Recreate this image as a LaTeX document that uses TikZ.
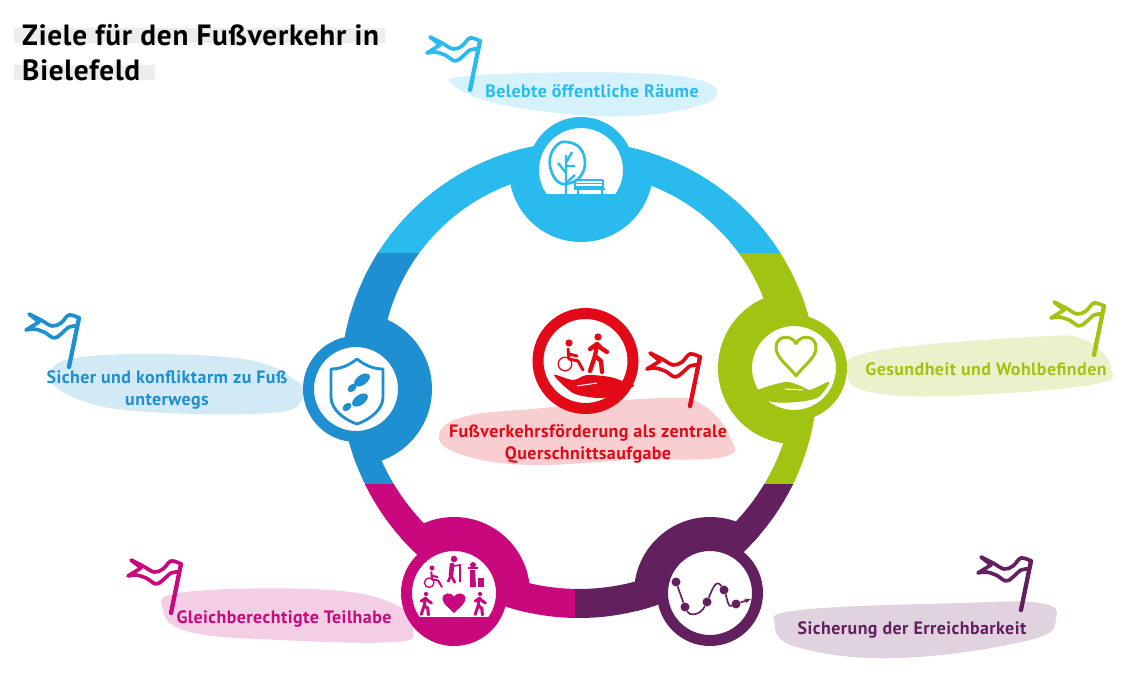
\documentclass[tikz,border=0pt]{standalone}
\usepackage{fontspec}
\setmainfont{PT Sans}[LetterSpace=2.5]
\usetikzlibrary{arrows.meta}

\definecolor{hellblau}{HTML}{29BBEE}
\definecolor{blau}{HTML}{1E8FD0}
\definecolor{gruen}{HTML}{A1C412}
\definecolor{rosa}{HTML}{C9087D}
\definecolor{lila}{HTML}{63205F}
\definecolor{rot}{HTML}{E30A18}

\newcommand{\ringaussen}{(579,380) circle [radius=238]}
\newcommand{\ringinnen}{plot[domain=180:360,samples=80] ({579+198*cos(\x)},{370+198*sin(\x)}) -- plot[domain=0:180,samples=80] ({579+216*cos(\x)},{373+216*sin(\x)}) -- cycle}

\tikzset{
  ring node/.style={circle,draw=#1,line width=.33cm,fill=white,minimum size=2.85cm,inner sep=0pt},
  wolke/.style={fill=#1,draw=none},
  ziel/.style={font=\bfseries\fontsize{15.3}{18}\selectfont,text=#1,align=center},
  wegpunkt/.style={circle,fill=lila,minimum size=.27cm,inner sep=0pt},
  weg/.style={draw=lila,line width=.05cm},
  fahne/.pic={
    \draw[line width=.11cm,line cap=round,line join=round]
      plot[smooth,tension=.6] coordinates {(10,17)(22,23)(33,29)(42,26)(50,18)(60,21)};
    \draw[line width=.11cm,line cap=round,line join=round]
      plot[smooth,tension=.6] coordinates {(7,33)(15,32)(25,35)(35,41)(42,37)(50,30)(57,29)};
    \draw[line width=.11cm,line join=round] (10,17) -- (20,25) -- (7,33);
    \draw[line width=.13cm,line cap=round] (60,21) -- (50,70);
  },
  herz/.pic={
    \path[pic actions] (0,-6) .. controls (-4,-13) and (-16,-12) .. (-16,-3) .. controls (-16,4) and (-6,10) .. (0,17)
      .. controls (6,10) and (16,4) .. (16,-3) .. controls (16,-12) and (4,-13) .. (0,-6) -- cycle;
  },
  gehend/.pic={
    \fill (0,0) circle [radius=3.6];
    \draw[line cap=round,line join=round] (-8,12) -- (-1,7) -- (3,11) -- (9,15);
    \draw[line cap=round,line join=round] (-1,7) -- (-3,19) -- (-8,34);
    \draw[line cap=round,line join=round] (-3,19) -- (3,24) -- (4,35);
  },
  rollstuhl/.pic={
    \fill (0,0) circle [radius=3.6];
    \draw[line width=.04cm] (-4,21) circle [radius=6.8];
    \draw[line cap=round,line join=round] (-1,6) -- (0,16) -- (9,18) -- (14,27);
    \draw[line cap=round] (0,11) -- (8,13);
  }
}

\begin{document}
\begin{tikzpicture}[x=.03cm,y=-.03cm]
  \useasboundingbox (0,0) rectangle (1135,679);

  % title
  \fill[black!7] (14,28) rectangle (385,43) (14,65) rectangle (155,80);
  \node[anchor=north west,inner sep=0pt,align=left,font=\bfseries\fontsize{25}{30}\selectfont] (titel) at (22,24)
    {Ziele für den Fußverkehr in\\Bielefeld};

  % pale clouds behind the texts
  \fill[wolke=hellblau!20] plot[smooth cycle,tension=.7] coordinates {(457,88)(478,75)(670,75)(715,98)(633,116)(520,108)};
  \fill[wolke=blau!20] plot[smooth cycle,tension=.7] coordinates {(50,375)(90,356)(235,358)(295,380)(302,400)(270,413)(150,412)(80,400)};
  \fill[wolke=gruen!22] plot[smooth cycle,tension=.7] coordinates {(848,375)(870,352)(1030,337)(1085,340)(1111,368)(1090,385)(950,396)(870,392)};
  \fill[wolke=rosa!20] plot[smooth cycle,tension=.7] coordinates {(163,610)(185,592)(330,590)(400,607)(413,630)(395,642)(280,640)(190,632)};
  \fill[wolke=lila!20] plot[smooth cycle,tension=.7] coordinates {(775,625)(800,610)(960,603)(1040,603)(1056,618)(1030,640)(900,658)(800,648)};
  \fill[wolke=rot!20] plot[smooth cycle,tension=.7] coordinates {(439,437)(463,417)(543,408)(663,398)(703,405)(730,437)(723,457)(630,460)(530,465)(463,455)};

  % big ring, one colour per part
  \foreach \farbe/\xa/\ya/\xb/\yb in {hellblau/300/100/860/254,blau/300/254/578/484,gruen/578/254/860/484,rosa/300/484/575/650,lila/575/484/860/650}{
    \begin{scope}
      \clip (\xa,\ya) rectangle (\xb,\yb);
      \fill[\farbe,even odd rule] \ringaussen \ringinnen;
    \end{scope}
  }

  % thick part of the ring at each goal
  \begin{scope}
    \clip \ringaussen;
    \fill[hellblau] (581,170) circle [radius=72];
    \fill[blau] (356,389) circle [radius=76];
    \fill[gruen] (794,368) circle [radius=76];
    \fill[rosa] (454,593) circle [radius=76];
    \fill[lila] (710,593) circle [radius=76];
  \end{scope}

  \node[ring node=hellblau] (raeume) at (581,170) {};
  \node[ring node=blau] (sicher) at (356,389) {};
  \node[ring node=gruen] (gesund) at (794,368) {};
  \node[ring node=rosa] (teilhabe) at (454,593) {};
  \node[ring node=lila] (erreichbar) at (710,593) {};
  \node[ring node=rot] (mitte) at (585.5,361) {};

  % tree and bench
  \begin{scope}
    \clip (581,170) circle [radius=43];
    \fill[hellblau] (530,194) rectangle (630,230);
  \end{scope}
  \draw[hellblau,line width=.08cm,line join=round] plot[smooth cycle,tension=.7] coordinates {(550,158)(557,145)(567,142)(580,148)(585,163)(580,177)(570,183)(560,183)(552,173)};
  \draw[hellblau,line width=.07cm] (566,194) -- (566,155) (566,163) -- (572,152) (566,166) -- (575,166) (566,183) -- (575,175) (566,173) -- (558,163);
  \draw[hellblau,line width=.04cm] (575,180) -- (603,180) (575,183.5) -- (603,183.5) (575,187) -- (603,187) (575,180) -- (575,189) (603,180) -- (603,189);
  \draw[hellblau,line width=.05cm] (574,189) -- (605,189) (578,189) -- (578,194) (602,189) -- (602,194);

  % shield and footprints
  \draw[blau,line width=.085cm,line join=round] (357,359) .. controls (348,366) and (340,369) .. (331,369) -- (331,397)
    .. controls (331,410) and (345,420) .. (357,424) .. controls (369,420) and (383,410) .. (383,397) -- (383,369)
    .. controls (374,369) and (366,366) .. (357,359) -- cycle;
  \fill[blau,rotate around={35:(362,380)}] (362,380) ellipse [x radius=9,y radius=5];
  \fill[blau,rotate around={40:(352,388)}] (352,388) ellipse [x radius=5,y radius=3.5];
  \fill[blau,rotate around={35:(360,400)}] (360,400) ellipse [x radius=9,y radius=5];
  \fill[blau,rotate around={40:(347,407)}] (347,407) ellipse [x radius=5,y radius=3.5];

  % heart in the hand
  \pic[draw=gruen,line width=.09cm,line join=round,xscale=1.25,yscale=1.4] at (796,352) {herz};
  \fill[gruen] plot[smooth cycle,tension=.5] coordinates {(752,393)(785,382)(803,387)(810,390)(828,382)(827,387)(817,398)(797,402)(773,402)};
  \draw[white,line width=.03cm] (785,389) -- (803,390);

  % people in the hand
  \pic[rot,line width=.13cm] at (598,337) {gehend};
  \pic[rot,line width=.09cm] at (569,343) {rollstuhl};
  \fill[rot] plot[smooth cycle,tension=.5] coordinates {(554,375)(573,380)(587,375)(610,377)(625,382)(634,386)(612,396)(597,398)(573,393)};
  \draw[white,line width=.03cm] (577,386) -- (597,383);

  % group of people
  \begin{scope}
    \clip (454,593) circle [radius=43];
    \fill[rosa] (400,617) rectangle (510,650);
  \end{scope}
  \pic[rosa,scale=.7,line width=.06cm] at (432,568) {rollstuhl};
  \pic[rosa,scale=.6,line width=.09cm] at (480,594) {gehend};
  \pic[rosa,scale=.6,line width=.09cm] at (426,594) {gehend};
  \pic[fill=rosa,scale=.72] at (454,601) {herz};
  \fill[rosa] (454,559) circle [radius=3.3];
  \draw[rosa,line width=.14cm,line cap=round] (452,565) -- (451,575);
  \draw[rosa,line width=.08cm,line join=round] (448,582) -- (451,575) -- (455,583);
  \draw[rosa,line width=.05cm] (453,566) -- (460,565) -- (460,582);
  \fill[rosa] (473,565) circle [radius=3];
  \draw[rosa,line width=.05cm] (468,568) -- (478,568);
  \fill[rosa] (470,570) -- (475,570) -- (476,587) -- (470,587) -- cycle;
  \fill[rosa] (478,578) rectangle (484,587);

  % winding way
  \node[wegpunkt] (p1) at (676,582) {};
  \node[wegpunkt] (p2) at (685,607) {};
  \node[wegpunkt] (p3) at (707,602) {};
  \node[wegpunkt] (p4) at (724,590) {};
  \node[wegpunkt] (p5) at (736,604) {};
  \coordinate (ziel) at (751,599);
  \draw[weg] (p1) -- (p2) .. controls (689,616) and (700,616) .. (p3) .. controls (712,590) and (716,578) .. (p4)
    .. controls (727,598) and (728,608) .. (p5) edge[-{Stealth[length=.2cm]}] (ziel);

  % flags
  \pic[hellblau] at (420,20) {fahne};
  \pic[blau] at (19,297) {fahne};
  \pic[gruen] at (1044,285) {fahne};
  \pic[rosa] at (121,543) {fahne};
  \pic[lila] at (971,540) {fahne};
  \pic[rot] at (640,336) {fahne};

  % goals
  \node[ziel=hellblau] (t1) at (592,91) {Belebte öffentliche Räume};
  \node[ziel=blau] (t2) at (167,390) {Sicher und konfliktarm zu Fuß\\unterwegs};
  \node[ziel=gruen] (t3) at (986,369) {Gesundheit und Wohlbefinden};
  \node[ziel=rosa] (t4) at (284,619) {Gleichberechtigte Teilhabe};
  \node[ziel=lila] (t5) at (912,630) {Sicherung der Erreichbarkeit};
  \node[ziel=rot] (t6) at (588,444) {Fußverkehrsförderung als zentrale\\Querschnittsaufgabe};
\end{tikzpicture}
\end{document}
